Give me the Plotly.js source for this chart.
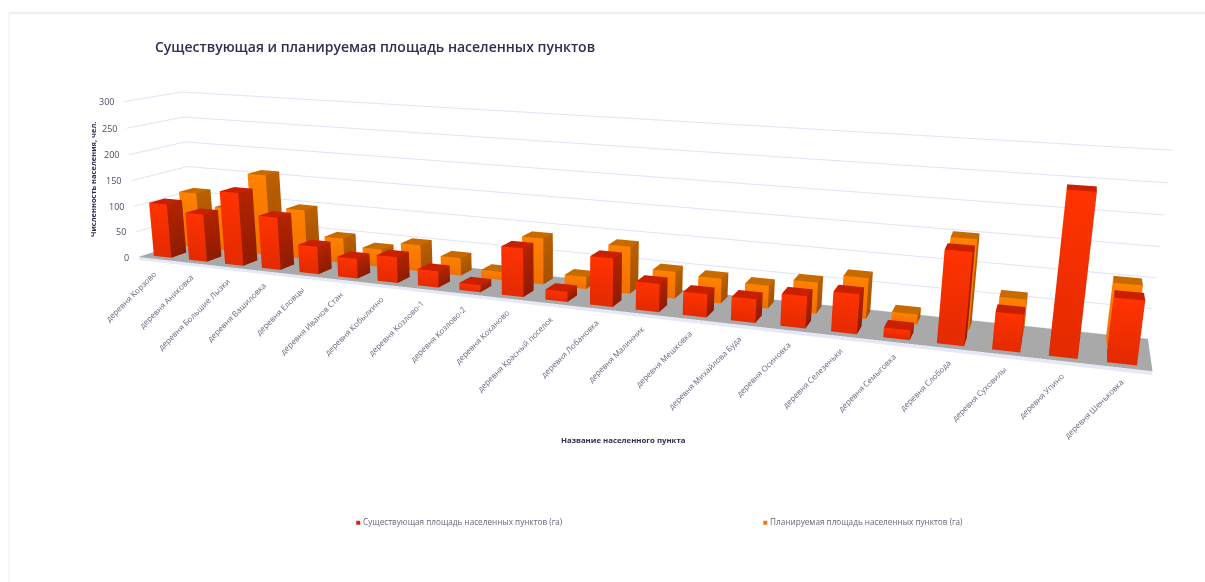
<!DOCTYPE html>
<html><head><meta charset="utf-8">
<script src="https://cdn.plot.ly/plotly-3.0.1.min.js"></script>
<style>html,body{margin:0;padding:0;width:1205px;height:582px;overflow:hidden;background:#fff}
#chart{position:absolute;left:0;top:-235px;width:1205px;height:1052px}</style>
</head><body><div id="chart"></div>
<script>
const categories=["деревня Корзово","деревня Аниковка","деревня Большие Лызки","деревня Вашиловка","деревня Еловцы","деревня Иванов Стан","деревня Кобылкино","деревня Козлово-1","деревня Козлово-2","деревня Коханово","деревня Красный поселок","деревня Лобановка","деревня Малинник","деревня Мешковка","деревня Михайлова Буда","деревня Осиновка","деревня Селезеньки","деревня Семыговка","деревня Слобода","деревня Суховилы","деревня Упино","деревня Шеньковка"];
const existing=[105,92,140,100,52,37,48,30,13,87,18,85,49,40,40,54,66,16,150,60,255,100];
const planned=[110,86,158,96,48,34,50,33,15,85,22,85,48,44,40,54,70,17,150,60,0,100];
const yTicks=[0,50,100,150,200,250,300];
const seriesNames=["Существующая площадь населенных пунктов (га)","Планируемая площадь населенных пунктов (га)"];

const TOP=235,H=1052,W=1205;
const px=x=>x/W, py=y=>1-(y+TOP)/H;
const NAVY='#2f2f52', GREY='#66667f';

function addBox(m,x0,x1,y0,y1,z0,z1,c){
  const face=(pts,cols)=>{const n=m.x.length;pts.forEach((p,k)=>{m.x.push(p[0]);m.y.push(p[1]);m.z.push(p[2]);m.vertexcolor.push(cols[k])});
    m.i.push(n,n);m.j.push(n+1,n+2);m.k.push(n+2,n+3)};
  face([[x0,y0,z0],[x1,y0,z0],[x1,y0,z1],[x0,y0,z1]],[c.fb,c.fb,c.ft,c.ft]);
  face([[x1,y0,z0],[x1,y1,z0],[x1,y1,z1],[x1,y0,z1]],[c.sb,c.sb,c.st,c.st]);
  face([[x0,y1,z0],[x0,y0,z0],[x0,y0,z1],[x0,y1,z1]],[c.fb,c.fb,c.ft,c.ft]);
  face([[x0,y0,z1],[x1,y0,z1],[x1,y1,z1],[x0,y1,z1]],[c.t,c.t,c.t,c.t]);
}
function barsTrace(vals,yc,c,name){
  const m={x:[],y:[],z:[],i:[],j:[],k:[],vertexcolor:[]};
  vals.forEach((v,i)=>{if(v>0)addBox(m,i-.25,i+.25,yc-.135,yc+.135,0,v,c)});
  return Object.assign(m,{type:'mesh3d',name,flatshading:true,hoverinfo:'skip',showscale:false,
    lighting:{ambient:1,diffuse:0,specular:0,roughness:1,fresnel:0}});
}
const RED={ft:'#ff3300',fb:'#e32a00',st:'#b32400',sb:'#8f1b00',t:'#c92000'};
const ORG={ft:'#ff8200',fb:'#f27000',st:'#bb6000',sb:'#a55000',t:'#c76a00'};
const XR=[-.5,categories.length-.5];
const floor={x:[XR[0],XR[1],XR[1],XR[0],XR[0],XR[1],XR[1],XR[0]],y:[0,0,1,1,0,0,0,0],z:[0,0,0,0,-6,-6,0,0],
  i:[0,0,4,4],j:[1,2,5,6],k:[2,3,6,7],facecolor:['#a9a9a9','#a9a9a9','#e6e9f5','#e6e9f5'],
  type:'mesh3d',name:'floor',hoverinfo:'skip',showscale:false,flatshading:true,
  lighting:{ambient:1,diffuse:0,specular:0,roughness:1,fresnel:0}};

const traces=[floor,barsTrace(planned,.79,ORG,seriesNames[1]),barsTrace(existing,.25,RED,seriesNames[0])];

const hidden={showgrid:false,zeroline:false,showline:false,showticklabels:false,ticks:'',showbackground:false,showspikes:false,title:{text:''}};
const sceneAnn=[];
yTicks.forEach(v=>sceneAnn.push({x:XR[0],y:0,z:v,text:String(v),showarrow:false,xanchor:'right',yanchor:'middle',xshift:-8,font:{family:'Open Sans',size:9,color:'#4a4a66'}}));
categories.forEach((c,i)=>sceneAnn.push({x:i,y:0,z:0,text:c,showarrow:false,textangle:-45,xanchor:'right',yanchor:'top',xshift:6,yshift:-6,font:{family:'Open Sans',size:8,color:GREY}}));

const layout={width:W,height:H,margin:{l:0,r:0,t:0,b:0,pad:0},paper_bgcolor:'#fff',showlegend:false,
  title:{text:'Существующая и планируемая площадь населенных пунктов',x:px(155),xanchor:'left',y:py(47),yanchor:'middle',font:{family:'Open Sans',size:14,weight:600,color:NAVY}},
  scene:{domain:{x:[0,1],y:[0,1]},aspectmode:'manual',aspectratio:{x:3,y:.273,z:.506},
    camera:{projection:{type:'perspective'},eye:{x:1.255,y:-3.320,z:.763},center:{x:.441,y:-1.109,z:.101},up:{x:-.071,y:.170,z:1}},
    xaxis:Object.assign({},hidden,{range:XR}),yaxis:Object.assign({},hidden,{range:[0,1]}),
    zaxis:{range:[-6,300],tickmode:'array',tickvals:yTicks,showgrid:true,gridcolor:'#dfe3f5',gridwidth:2,zeroline:false,showline:false,showticklabels:false,ticks:'',showbackground:false,showspikes:false,title:{text:''}},
    annotations:sceneAnn},
  annotations:[
   {xref:'paper',yref:'paper',x:px(623),y:py(440),text:'<b>Название населенного пункта</b>',showarrow:false,xanchor:'center',yanchor:'middle',font:{family:'Open Sans',size:7.8,color:NAVY}},
   {xref:'paper',yref:'paper',x:px(93),y:py(180),text:'<b>Численность населения, чел.</b>',textangle:-90,showarrow:false,xanchor:'center',yanchor:'middle',font:{family:'Open Sans',size:7.5,color:NAVY}},
   {xref:'paper',yref:'paper',x:px(354),y:py(521),text:'<span style="color:#e02010">■</span> '+seriesNames[0],showarrow:false,xanchor:'left',yanchor:'middle',font:{family:'Open Sans',size:8.2,color:GREY}},
   {xref:'paper',yref:'paper',x:px(761),y:py(521),text:'<span style="color:#ee7a10">■</span> '+seriesNames[1],showarrow:false,xanchor:'left',yanchor:'middle',font:{family:'Open Sans',size:8.2,color:GREY}}
  ],
  shapes:[{type:'line',xref:'paper',yref:'paper',x0:px(9),x1:1,y0:py(13),y1:py(13),line:{color:'#dcdce8',width:1}},
          {type:'line',xref:'paper',yref:'paper',x0:px(9),x1:px(9),y0:py(13),y1:py(582),line:{color:'#ececf3',width:1}}]
};
Plotly.newPlot('chart',traces,layout,{displayModeBar:false,responsive:false});
</script></body></html>
